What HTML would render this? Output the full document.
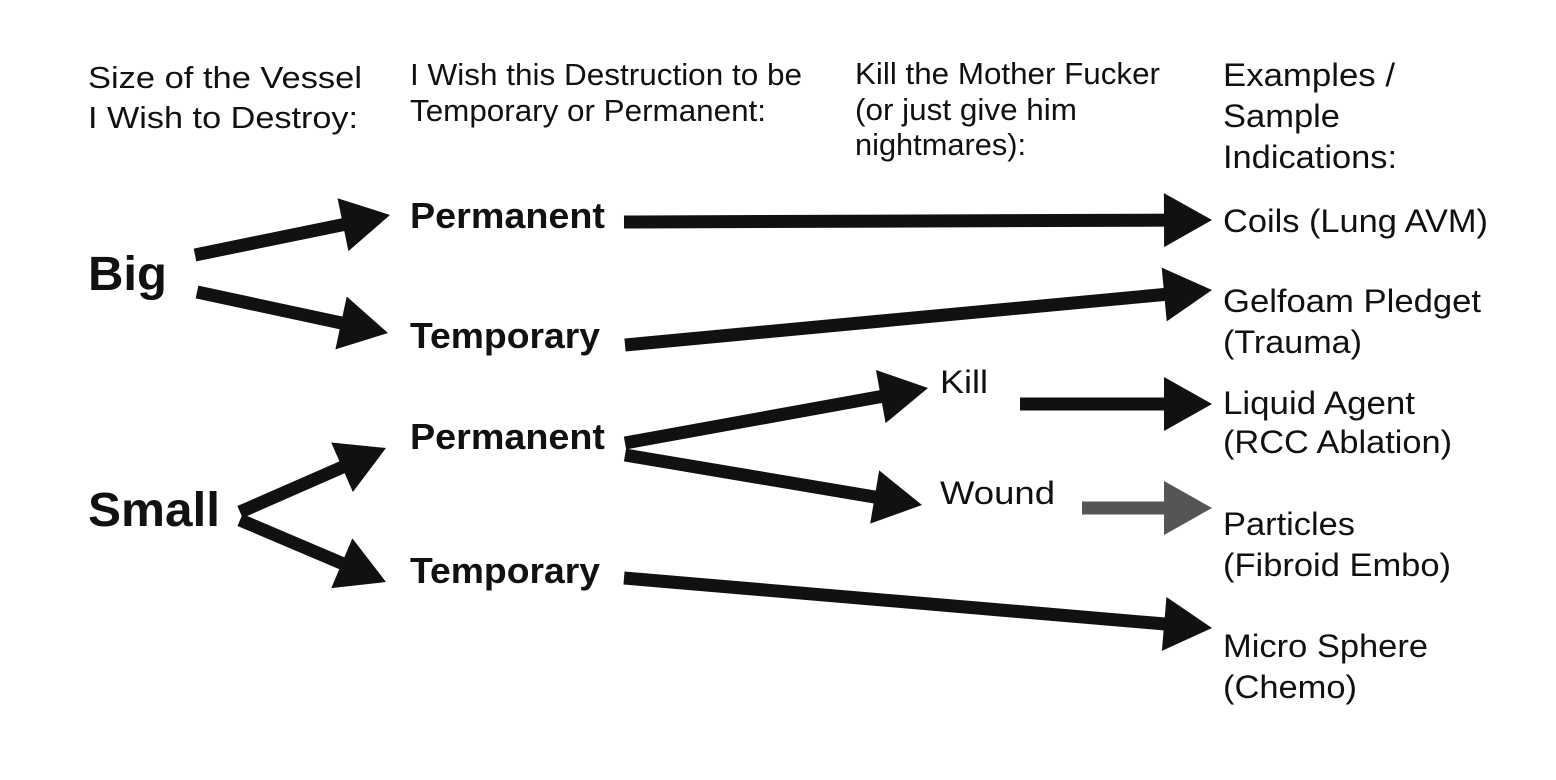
<!DOCTYPE html>
<html><head><meta charset="utf-8"><style>
html,body{margin:0;padding:0;background:#fff;width:1556px;height:780px;overflow:hidden}
svg text{font-family:"Liberation Sans",Arial,sans-serif;fill:#111}
.h{font-size:31px}
.b{font-weight:bold;font-size:36px}
.bb{font-weight:bold;font-size:48px}
.e{font-size:32px}
</style></head><body>
<svg id="d" width="1556" height="780" viewBox="0 0 1556 780">
<g>
<text class="h" x="88" y="88" textLength="274" lengthAdjust="spacingAndGlyphs">Size of the Vessel</text>
<text class="h" x="88" y="128" textLength="270" lengthAdjust="spacingAndGlyphs">I Wish to Destroy:</text>
<text class="h" x="410" y="85" textLength="392" lengthAdjust="spacingAndGlyphs">I Wish this Destruction to be</text>
<text class="h" x="410" y="121" textLength="356" lengthAdjust="spacingAndGlyphs">Temporary or Permanent:</text>
<text class="h" x="855" y="84" textLength="305" lengthAdjust="spacingAndGlyphs">Kill the Mother Fucker</text>
<text class="h" x="855" y="120" textLength="222" lengthAdjust="spacingAndGlyphs">(or just give him</text>
<text class="h" x="855" y="155" textLength="171" lengthAdjust="spacingAndGlyphs">nightmares):</text>
<text class="e" x="1223" y="86" textLength="172" lengthAdjust="spacingAndGlyphs">Examples /</text>
<text class="e" x="1223" y="127" textLength="117" lengthAdjust="spacingAndGlyphs">Sample</text>
<text class="e" x="1223" y="168" textLength="174" lengthAdjust="spacingAndGlyphs">Indications:</text>
</g>
<text class="bb" x="88" y="290" textLength="79" lengthAdjust="spacingAndGlyphs">Big</text>
<text class="bb" x="88" y="526" textLength="132" lengthAdjust="spacingAndGlyphs">Small</text>
<text class="b" x="410" y="228" textLength="195" lengthAdjust="spacingAndGlyphs">Permanent</text>
<text class="b" x="410" y="348" textLength="190" lengthAdjust="spacingAndGlyphs">Temporary</text>
<text class="b" x="410" y="449" textLength="195" lengthAdjust="spacingAndGlyphs">Permanent</text>
<text class="b" x="410" y="583" textLength="190" lengthAdjust="spacingAndGlyphs">Temporary</text>
<text class="e" x="940" y="393" textLength="48" lengthAdjust="spacingAndGlyphs">Kill</text>
<text class="e" x="940" y="504" textLength="115" lengthAdjust="spacingAndGlyphs">Wound</text>
<text class="e" x="1223" y="232" textLength="265" lengthAdjust="spacingAndGlyphs">Coils (Lung AVM)</text>
<text class="e" x="1223" y="312" textLength="258" lengthAdjust="spacingAndGlyphs">Gelfoam Pledget</text>
<text class="e" x="1223" y="353" textLength="139" lengthAdjust="spacingAndGlyphs">(Trauma)</text>
<text class="e" x="1223" y="414" textLength="192" lengthAdjust="spacingAndGlyphs">Liquid Agent</text>
<text class="e" x="1223" y="453" textLength="229" lengthAdjust="spacingAndGlyphs">(RCC Ablation)</text>
<text class="e" x="1223" y="535" textLength="132" lengthAdjust="spacingAndGlyphs">Particles</text>
<text class="e" x="1223" y="576" textLength="228" lengthAdjust="spacingAndGlyphs">(Fibroid Embo)</text>
<text class="e" x="1223" y="657" textLength="205" lengthAdjust="spacingAndGlyphs">Micro Sphere</text>
<text class="e" x="1223" y="698" textLength="134" lengthAdjust="spacingAndGlyphs">(Chemo)</text>
<g id="arrows"></g>
</svg>
<script>
const arrows = [
 ["big-to-permanent",195,255,390,215,"#111"],
 ["big-to-temporary",197,292,388,333,"#111"],
 ["permanent-to-coils",624,222,1212,220,"#111"],
 ["temporary-to-gelfoam",625,345,1212,290,"#111"],
 ["small-to-permanent",240,512,386,448,"#111"],
 ["small-to-temporary",240,520,386,582,"#111"],
 ["permanent-to-kill",625,443,928,388,"#111"],
 ["permanent-to-wound",625,455,922,505,"#111"],
 ["kill-to-liquid",1020,404,1212,404,"#111"],
 ["wound-to-particles",1082,508,1212,508,"#555"],
 ["temporary-to-microsphere",624,578,1212,628,"#111"]
];
const NS="http://www.w3.org/2000/svg";
const g=document.getElementById("arrows");
arrows.forEach(a=>{
 const [name,x1,y1,x2,y2,col]=a;
 const dx=x2-x1,dy=y2-y1,L=Math.hypot(dx,dy),ux=dx/L,uy=dy/L,px=-uy,py=ux;
 const hl=48,hw=27;
 const bx=x2-ux*hl,by=y2-uy*hl;
 const grp=document.createElementNS(NS,"g");
 
 
 const ln=document.createElementNS(NS,"line");
 ln.setAttribute("x1",x1);ln.setAttribute("y1",y1);
 ln.setAttribute("x2",bx+ux*4);ln.setAttribute("y2",by+uy*4);
 ln.setAttribute("stroke",col);ln.setAttribute("stroke-width",13);
 
 
 const hd=document.createElementNS(NS,"polygon");
 hd.setAttribute("points",`${x2},${y2} ${bx+px*hw},${by+py*hw} ${bx-px*hw},${by-py*hw}`);
 hd.setAttribute("fill",col);
 
 
 grp.appendChild(ln);grp.appendChild(hd);g.appendChild(grp);
});
</script>
</body></html>
